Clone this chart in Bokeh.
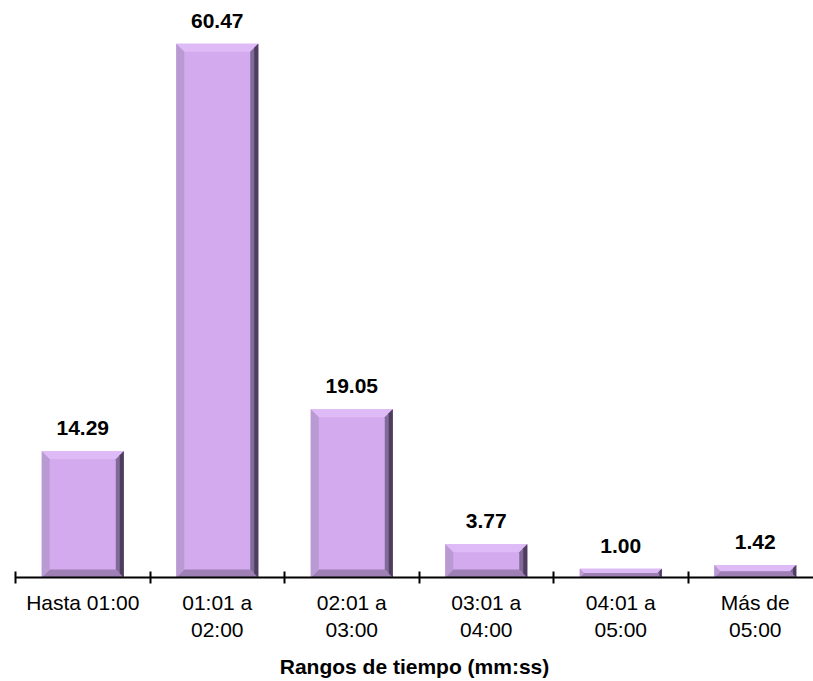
from bokeh.plotting import figure
from bokeh.models import Range1d, FixedTicker, ColumnDataSource
from bokeh.core.properties import value
from bokeh.embed import file_html
from bokeh.resources import INLINE

categories = ["Hasta 01:00", "01:01 a\n02:00", "02:01 a\n03:00", "03:01 a\n04:00", "04:01 a\n05:00", "Más de\n05:00"]
values = [14.29, 60.47, 19.05, 3.77, 1.00, 1.42]
value_labels = ["14.29", "60.47", "19.05", "3.77", "1.00", "1.42"]
x_title = "Rangos de tiempo (mm:ss)"

n = len(categories)
W, H = 813, 681
left_pad = 15
frame_w = W - left_pad
cat_px = 134.5
frame_h = 575
px_y = 8.798
y_end = frame_h / px_y
bar_w = 0.61

p = figure(width=W, height=H, output_backend="svg", toolbar_location=None,
           x_range=Range1d(0, frame_w / cat_px), y_range=Range1d(0, y_end),
           min_border_left=left_pad, min_border_right=0, min_border_top=0, min_border_bottom=0,
           y_axis_location=None)
p.outline_line_color = None
p.xgrid.visible = False
p.ygrid.visible = False
p.background_fill_color = "white"

centers = [i + 0.5 for i in range(n)]
x0 = [c - bar_w / 2 for c in centers]
x1 = [c + bar_w / 2 for c in centers]

# face
p.quad(left=x0, right=x1, bottom=0, top=values, fill_color="#D3AAEE", line_color=None)

top_xs, top_ys, bot_xs, bot_ys = [], [], [], []
l_xs, l_ys, r_xs, r_ys, r2_xs, r2_ys = [], [], [], [], [], []
for a, b, v in zip(x0, x1, values):
    hpx = v * px_y
    bpx = min(8.0, hpx / 2)
    bx = bpx / cat_px
    by = bpx / px_y
    top_xs.append([a, b, b - bx, a + bx]); top_ys.append([v, v, v - by, v - by])
    bot_xs.append([a, b, b - bx, a + bx]); bot_ys.append([0, 0, by, by])
    l_xs.append([a, a, a + bx, a + bx]); l_ys.append([0, v, v - by, by])
    r_xs.append([b, b, b - bx, b - bx]); r_ys.append([0, v, v - by, by])
    r2_xs.append([b, b, b - bx / 2, b - bx / 2]); r2_ys.append([0, v, v - by / 2, by / 2])

p.patches(top_xs, top_ys, fill_color="#DEBBF7", line_color=None)
p.patches(bot_xs, bot_ys, fill_color="#9E80B4", line_color=None)
p.patches(l_xs, l_ys, fill_color="#BA9AD3", line_color=None)
p.patches(r_xs, r_ys, fill_color="#806A98", line_color=None)
p.patches(r2_xs, r2_ys, fill_color="#4E3E5E", line_color=None)

src = ColumnDataSource(dict(x=centers, y=values, t=value_labels))
p.text(x="x", y="y", text="t", source=src, y_offset=-23,
       text_align="center", text_baseline="middle",
       text_font=value("Liberation Sans"), text_font_style="bold",
       text_font_size="21px", text_color="black")

ax = p.xaxis[0]
ax.ticker = FixedTicker(ticks=centers, minor_ticks=list(range(n + 1)))
ax.major_label_overrides = {c: lab for c, lab in zip(centers, categories)}
ax.major_tick_line_color = None
ax.major_tick_in = 0
ax.major_tick_out = 0
ax.minor_tick_line_color = "black"
ax.minor_tick_line_width = 2
ax.minor_tick_in = 6
ax.minor_tick_out = 6
ax.axis_line_color = "black"
ax.axis_line_width = 2
ax.major_label_text_font = "Liberation Sans"
ax.major_label_text_font_size = "21px"
ax.major_label_text_color = "black"
ax.major_label_standoff = 7
ax.axis_label = x_title
ax.axis_label_text_font = "Liberation Sans"
ax.axis_label_text_font_style = "bold"
ax.axis_label_text_font_size = "21px"
ax.axis_label_text_color = "black"
ax.axis_label_standoff = 11

open("out.html", "w").write(file_html(p, INLINE))
